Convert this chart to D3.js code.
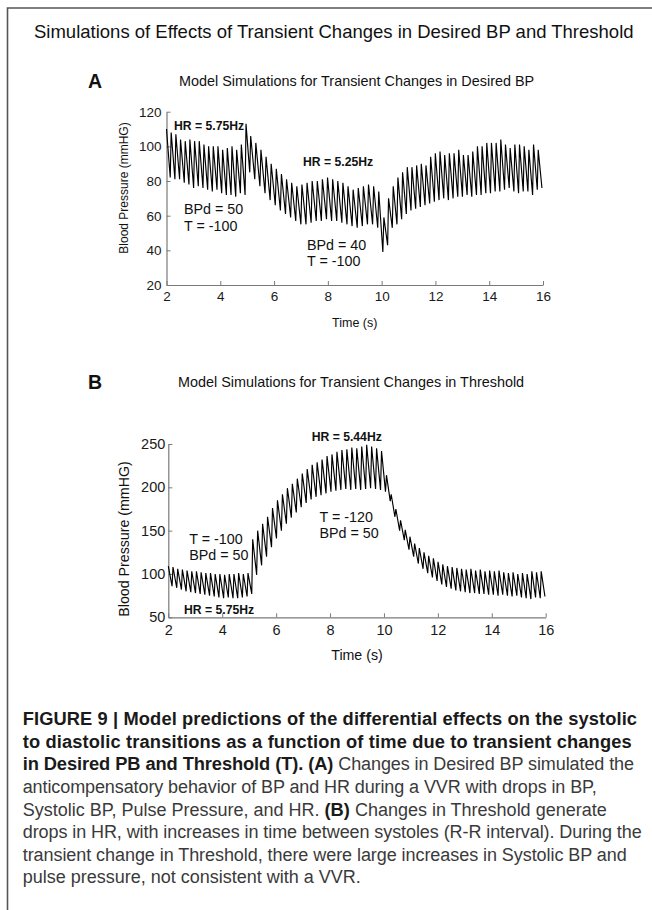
<!DOCTYPE html>
<html>
<head>
<meta charset="utf-8">
<script src="https://cdn.jsdelivr.net/npm/d3@7"></script>
<style>
  body { margin: 0; background: #fff; }
  svg { display: block; font-family: "Liberation Sans", Arial, sans-serif; }
</style>
</head>
<body>
<svg id="fig" width="652" height="910"></svg>
<script>
// ---- data ----

var timeTicks = [2, 4, 6, 8, 10, 12, 14, 16];
var bpTicksA = [20, 40, 60, 80, 100, 120];
var bpTicksB = [50, 100, 150, 200, 250];

// heart rate segments (start time in s, rate in Hz)
var hrStartA = [2, 5, 10];
var hrRateA = [5.75, 5.25, 5.75];
var hrStartB = [2, 5, 10];
var hrRateB = [5.75, 5.44, 5.75];

// panel A: systolic peak and following diastolic trough for every beat (mmHg)
var sysA = [110, 108, 107, 104, 103, 104, 103, 103, 101, 100, 100, 100, 98, 99, 100, 98, 101, 113,
    106, 102, 98, 94, 90, 87, 84, 81, 79, 77, 78, 79, 80, 80, 81, 82, 81, 80, 79, 77, 75, 76, 77, 78, 77, 74,
    59, 70, 77, 82, 85, 88, 88, 89, 90, 89, 94, 96, 97, 95, 96, 96, 98, 95, 95, 97, 100, 100, 102, 102, 102,
    104, 101, 99, 101, 101, 100, 98, 101, 98];
var diaA = [82, 81, 81, 79, 78, 76, 77, 76, 75, 74, 75, 73, 72, 72, 71, 73, 72, 85,
    81, 77, 73, 69, 66, 63, 61, 59, 57, 55, 55, 56, 57, 57, 58, 57, 57, 56, 55, 54, 53, 54, 55, 55, 53, 39,
    43, 53, 55, 58, 61, 63, 64, 65, 66, 67, 68, 69, 70, 69, 70, 71, 71, 72, 71, 72, 72, 73, 73, 74, 74,
    75, 76, 74, 73, 74, 74, 72, 75, 76];

// panel B
var sysB = [109, 108, 106, 105, 104, 103, 103, 102, 101, 101, 100, 100, 99, 100, 100, 101, 100, 101,
    140, 150, 158, 166, 176, 185, 192, 199, 204, 210, 216, 221, 226, 229, 232, 236, 238, 241, 243, 244,
    246, 245, 247, 249, 247, 245, 242,
    214, 192, 175, 162, 151, 143, 135, 130, 125, 121, 118, 114, 111, 109, 108, 107, 106, 105, 106, 104,
    105, 103, 104, 103, 104, 102, 101, 102, 100, 101, 100, 103, 102, 103];
var diaB = [86, 84, 82, 80, 79, 78, 77, 76, 75, 74, 73, 72, 73, 72, 72, 73, 74, 77,
    99, 110, 120, 131, 141, 150, 158, 165, 171, 177, 182, 186, 189, 191, 193, 195, 196, 197, 198, 197,
    198, 197, 198, 199, 198, 197, 195,
    184, 166, 150, 139, 128, 120, 112, 106, 101, 96, 92, 88, 85, 83, 81, 80, 79, 78, 78, 77,
    77, 76, 76, 75, 76, 75, 74, 75, 73, 72, 71, 73, 72, 74];

// ---- helpers ----

var svg = d3.select("#fig");

// beat onsets follow the heart rate of the segment the beat falls in
function beats(n, starts, rates) {
    var out = [], t = starts[0];
    for (var i = 0; i < n; i++) {
        var j = 0;
        for (var k = 0; k < starts.length; k++) if (starts[k] <= t + 1e-9) j = k;
        var p = 1 / rates[j];
        out.push({t: t, p: p});
        t += p;
    }
    return out;
}

// peak at the beat onset, trough late in the beat
function wavePoints(sys, dia, starts, rates) {
    var b = beats(sys.length, starts, rates), pts = [];
    for (var i = 0; i < b.length; i++) {
        pts.push([b[i].t, sys[i]]);
        pts.push([b[i].t + 0.8 * b[i].p, dia[i]]);
    }
    return pts;
}

function txt(x, y, s, size, weight, anchor) {
    return svg.append("text")
        .attr("x", x).attr("y", y)
        .attr("font-size", size)
        .attr("font-weight", weight || "normal")
        .attr("text-anchor", anchor || "start")
        .attr("fill", "#111")
        .text(s);
}

function drawPanel(o) {
    var x = d3.scaleLinear().domain([2, 16]).range(o.xr);
    var y = d3.scaleLinear().domain(o.yd).range(o.yr);
    var g = svg.append("g");

    var ax = g.append("g")
        .attr("transform", "translate(0," + o.yr[0] + ")")
        .call(d3.axisBottom(x).tickValues(timeTicks).tickSizeInner(-4).tickSizeOuter(0).tickPadding(o.xpad));
    var ay = g.append("g")
        .attr("transform", "translate(" + o.xr[0] + ",0)")
        .call(d3.axisLeft(y).tickValues(o.yticks).tickSizeInner(-4).tickSizeOuter(0).tickPadding(o.ypad));

    [ax, ay].forEach(function (a) {
        a.attr("font-family", null).attr("font-size", o.tickFont);
        a.select(".domain").attr("stroke", "#7a7a7a").attr("stroke-width", 1.2);
        a.selectAll(".tick line").attr("stroke", "#7a7a7a");
        a.selectAll(".tick text").attr("fill", "#1a1a1a");
    });

    var line = d3.line()
        .x(function (d) { return x(d[0]); })
        .y(function (d) { return y(d[1]); });

    g.append("path")
        .datum(wavePoints(o.sys, o.dia, o.hrStart, o.hrRate))
        .attr("d", line)
        .attr("fill", "none")
        .attr("stroke", "#000")
        .attr("stroke-width", 1.15)
        .attr("stroke-linejoin", "miter");

    // axis titles
    txt((o.xr[0] + o.xr[1]) / 2, o.xlabY, "Time (s)", o.labFont, "normal", "middle");
    svg.append("text")
        .attr("transform", "translate(" + o.ylabX + "," + o.ylabY + ") rotate(-90)")
        .attr("text-anchor", "middle")
        .attr("font-size", o.ylabFont)
        .attr("fill", "#111")
        .text("Blood Pressure (mmHG)");
}

// ---- figure frame and title ----

svg.append("path")
    .attr("d", "M7.5,910 V8 H652")
    .attr("fill", "none")
    .attr("stroke", "#555")
    .attr("stroke-width", 1.6);

txt(34, 37.7, "Simulations of Effects of Transient Changes in Desired BP and Threshold", 18.5);

// ---- panel A ----

txt(88, 87.5, "A", 19.5, "bold");
txt(179, 86.3, "Model Simulations for Transient Changes in Desired BP", 14.4);

drawPanel({
    xr: [166.5, 543], yd: [20, 120], yr: [285, 111.7],
    yticks: bpTicksA, tickFont: 13.5, xpad: 6.5, ypad: 5,
    labFont: 12.5, xlabY: 326.5, ylabX: 127.5, ylabY: 188, ylabFont: 12,
    sys: sysA, dia: diaA, hrStart: hrStartA, hrRate: hrRateA
});

txt(174, 129.5, "HR = 5.75Hz", 12.2, "bold");
txt(303, 166, "HR = 5.25Hz", 12.2, "bold");
txt(184, 214, "BPd = 50", 14.3);
txt(184, 231, "T = -100", 14.3);
txt(307, 249.5, "BPd = 40", 14.3);
txt(307, 265.5, "T = -100", 14.3);

// ---- panel B ----

txt(88, 388.5, "B", 19.5, "bold");
txt(178, 387, "Model Simulations for Transient Changes in Threshold", 14.4);

drawPanel({
    xr: [168.3, 545.7], yd: [50, 250], yr: [617.3, 444],
    yticks: bpTicksB, tickFont: 14.5, xpad: 7, ypad: 3,
    labFont: 14.2, xlabY: 660, ylabX: 129, ylabY: 539, ylabFont: 14.2,
    sys: sysB, dia: diaB, hrStart: hrStartB, hrRate: hrRateB
});

txt(311.7, 440.5, "HR = 5.44Hz", 12.2, "bold");
txt(184, 613.5, "HR = 5.75Hz", 12.2, "bold");
txt(189.3, 544, "T = -100", 14.3);
txt(189.3, 560, "BPd = 50", 14.3);
txt(319.5, 521.5, "T = -120", 14.3);
txt(319.5, 537.5, "BPd = 50", 14.3);

// ---- caption ----

var captionLines = [
    [["FIGURE 9 | Model predictions of the differential effects on the systolic", true]],
    [["to diastolic transitions as a function of time due to transient changes", true]],
    [["in Desired PB and Threshold (T). (A)", true], [" Changes in Desired BP simulated the", false]],
    [["anticompensatory behavior of BP and HR during a VVR with drops in BP,", false]],
    [["Systolic BP, Pulse Pressure, and HR. ", false], ["(B)", true], [" Changes in Threshold generate", false]],
    [["drops in HR, with increases in time between systoles (R-R interval). During the", false]],
    [["transient change in Threshold, there were large increases in Systolic BP and", false]],
    [["pulse pressure, not consistent with a VVR.", false]]
];
var captionEnds = [637, 631.7, 634, 596.7, 606.7, 641.7, 626.7, null];

captionLines.forEach(function (runs, i) {
    var t = svg.append("text")
        .attr("x", 22.7)
        .attr("y", 725.3 + i * 22.55);
    runs.forEach(function (r) {
        t.append("tspan")
            .attr("font-size", r[1] ? 18.3 : 18)
            .attr("font-weight", r[1] ? "bold" : "normal")
            .attr("fill", r[1] ? "#1a1a1a" : "#3a3a3a")
            .text(r[0]);
    });
    if (captionEnds[i]) {
        t.attr("textLength", captionEnds[i] - 22.7).attr("lengthAdjust", "spacing");
    }
});
</script>
</body>
</html>
